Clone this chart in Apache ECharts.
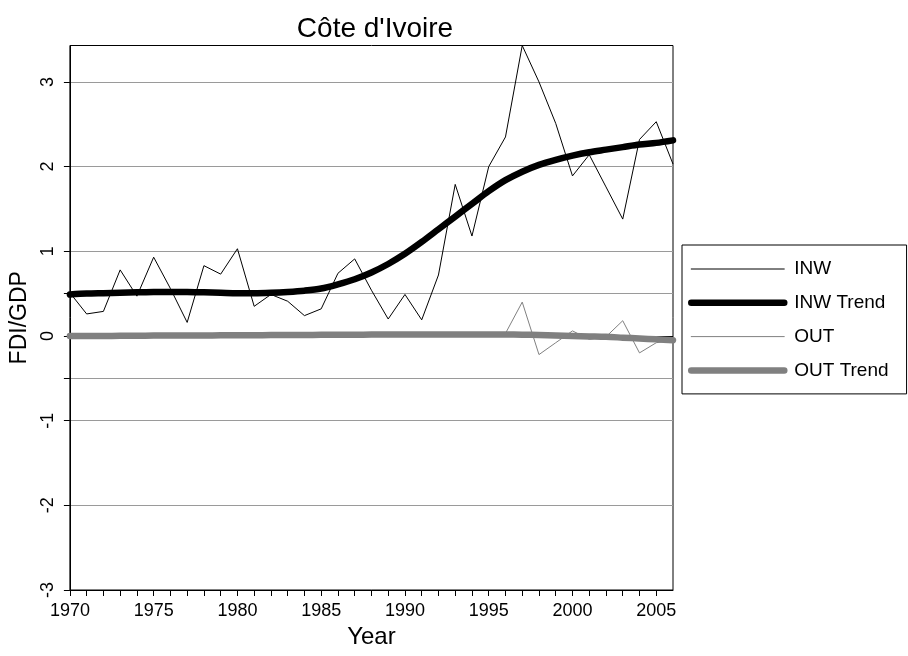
<!DOCTYPE html>
<html>
<head>
<meta charset="utf-8">
<script src="https://cdn.jsdelivr.net/npm/echarts@6/dist/echarts.min.js"></script>
<style>
  html, body { margin: 0; padding: 0; background: #fff; }
  #chart { width: 908px; height: 656px; }
</style>
</head>
<body>
<div id="chart"></div>
<script>
// FDI flows as a share of GDP, Côte d'Ivoire, 1970–2006
const years = [1970, 1971, 1972, 1973, 1974, 1975, 1976, 1977, 1978, 1979,
               1980, 1981, 1982, 1983, 1984, 1985, 1986, 1987, 1988, 1989,
               1990, 1991, 1992, 1993, 1994, 1995, 1996, 1997, 1998, 1999,
               2000, 2001, 2002, 2003, 2004, 2005, 2006];

const inw = [0.51, 0.26, 0.29, 0.78, 0.47, 0.93, 0.56, 0.16, 0.83, 0.73,
             1.03, 0.35, 0.49, 0.41, 0.24, 0.32, 0.74, 0.91, 0.54, 0.20,
             0.49, 0.19, 0.72, 1.79, 1.18, 2.00, 2.35, 3.43, 3.00, 2.51,
             1.89, 2.14, 1.76, 1.38, 2.32, 2.53, 2.03];

const inwTrend = [0.49, 0.50, 0.505, 0.51, 0.515, 0.52, 0.52, 0.52, 0.515, 0.51,
                  0.505, 0.505, 0.51, 0.52, 0.535, 0.56, 0.61, 0.67, 0.75, 0.85,
                  0.97, 1.11, 1.26, 1.41, 1.56, 1.71, 1.84, 1.94, 2.02, 2.08,
                  2.13, 2.17, 2.20, 2.23, 2.26, 2.28, 2.31];

const out = [0.00, 0.01, 0.00, 0.01, 0.00, 0.01, 0.00, 0.00, 0.01, 0.00,
             0.01, 0.00, 0.01, 0.00, 0.01, 0.00, 0.01, 0.01, 0.02, 0.03,
             0.01, 0.02, 0.01, 0.02, 0.01, 0.04, 0.03, 0.40, -0.22, -0.08,
             0.06, -0.04, -0.01, 0.18, -0.20, -0.08, -0.05];

const outTrend = [0.00, 0.00, 0.00, 0.002, 0.003, 0.004, 0.005, 0.005, 0.006, 0.007,
                  0.008, 0.009, 0.01, 0.01, 0.012, 0.013, 0.014, 0.015, 0.016, 0.017,
                  0.017, 0.018, 0.018, 0.018, 0.018, 0.018, 0.017, 0.015, 0.012, 0.006,
                  0.00, -0.005, -0.01, -0.02, -0.03, -0.04, -0.05];

const yTickValues = [-3, -2, -1, -0.5, 0, 0.5, 1, 2, 3];
const yLabelValues = [-3, -2, -1, 0, 1, 2, 3];

const FONT = '"Liberation Sans", Arial, sans-serif';
const GREY = '#808080';
const THIN = 1;
const THICK = 6.5;

const pairs = (ys) => years.map((y, i) => [y, ys[i]]);

// legend entries: plain line swatches, no marker
const legendEntry = (name, color, width) => ({
  name,
  itemStyle: { opacity: 0 },
  lineStyle: { color, width, cap: 'round', opacity: 1 }
});

const chart = echarts.init(document.getElementById('chart'), null, { renderer: 'canvas' });

chart.setOption({
  animation: false,
  backgroundColor: '#fff',
  textStyle: { fontFamily: FONT, color: '#000' },
  title: {
    text: "Côte d'Ivoire",
    left: 370,
    textAlign: 'center',
    top: 10,
    textStyle: { fontFamily: FONT, fontSize: 28, fontWeight: 'normal', color: '#000' }
  },
  grid: {
    left: 69, right: 235, top: 45.5, bottom: 66,
    show: true, borderColor: '#000', borderWidth: 1, backgroundColor: 'transparent'
  },
  legend: {
    orient: 'vertical',
    left: 682,
    top: 245,
    padding: [14.5, 18, 14, 6],
    itemWidth: 93,
    itemHeight: 20,
    itemGap: 14.8,
    borderColor: '#000',
    borderWidth: 1,
    borderRadius: 0,
    backgroundColor: '#fff',
    itemStyle: { opacity: 0 },
    textStyle: { fontFamily: FONT, fontSize: 19, color: '#000', padding: [0, 0, 0, 5] },
    data: [
      legendEntry('INW', '#000', THIN),
      legendEntry('INW Trend', '#000', THICK),
      legendEntry('OUT', GREY, THIN),
      legendEntry('OUT Trend', GREY, THICK)
    ]
  },
  xAxis: {
    type: 'value',
    min: 1970,
    max: 2006,
    interval: 1,
    name: 'Year',
    nameLocation: 'middle',
    nameGap: 34,
    nameTextStyle: { fontFamily: FONT, fontSize: 24, color: '#000' },
    axisLine: { show: true, onZero: false, lineStyle: { color: '#000', width: 1 } },
    axisTick: { show: true, length: 6, lineStyle: { color: '#000' } },
    axisLabel: {
      fontFamily: FONT, fontSize: 18, color: '#000', margin: 12,
      showMaxLabel: false,
      formatter: (v) => (v % 5 === 0 ? String(v) : '')
    },
    splitLine: { show: false }
  },
  yAxis: {
    type: 'value',
    min: -3,
    max: 3.43,
    interval: 0.5,
    name: 'FDI/GDP',
    nameLocation: 'middle',
    nameGap: 29,
    nameTextStyle: { fontFamily: FONT, fontSize: 23, color: '#000' },
    axisLine: { show: true, lineStyle: { color: '#000', width: 1 } },
    axisTick: { show: true, length: 6, customValues: yTickValues, lineStyle: { color: '#000' } },
    axisLabel: {
      fontFamily: FONT, fontSize: 18, color: '#000', margin: 13,
      rotate: 90,
      customValues: yLabelValues,
      formatter: (v) => String(v)
    },
    splitLine: { show: true, lineStyle: { color: '#9a9a9a', width: 1.2 } }
  },
  series: [
    {
      name: 'INW',
      type: 'line',
      data: pairs(inw),
      symbol: 'none',
      z: 2,
      lineStyle: { color: '#000', width: THIN },
      itemStyle: { color: '#000' },
      markLine: {
        silent: true,
        z: 1,
        symbol: 'none',
        label: { show: false },
        lineStyle: { color: '#000', width: 1.2, type: 'solid' },
        data: [{ yAxis: 0 }]
      }
    },
    {
      name: 'INW Trend',
      type: 'line',
      data: pairs(inwTrend),
      symbol: 'none',
      smooth: 0.3,
      z: 3,
      lineStyle: { color: '#000', width: THICK, cap: 'round', join: 'round' },
      itemStyle: { color: '#000' }
    },
    {
      name: 'OUT',
      type: 'line',
      data: pairs(out),
      symbol: 'none',
      z: 4,
      lineStyle: { color: GREY, width: THIN },
      itemStyle: { color: GREY }
    },
    {
      name: 'OUT Trend',
      type: 'line',
      data: pairs(outTrend),
      symbol: 'none',
      smooth: 0.3,
      z: 5,
      lineStyle: { color: GREY, width: THICK, cap: 'round', join: 'round' },
      itemStyle: { color: GREY }
    }
  ]
});
</script>
</body>
</html>
